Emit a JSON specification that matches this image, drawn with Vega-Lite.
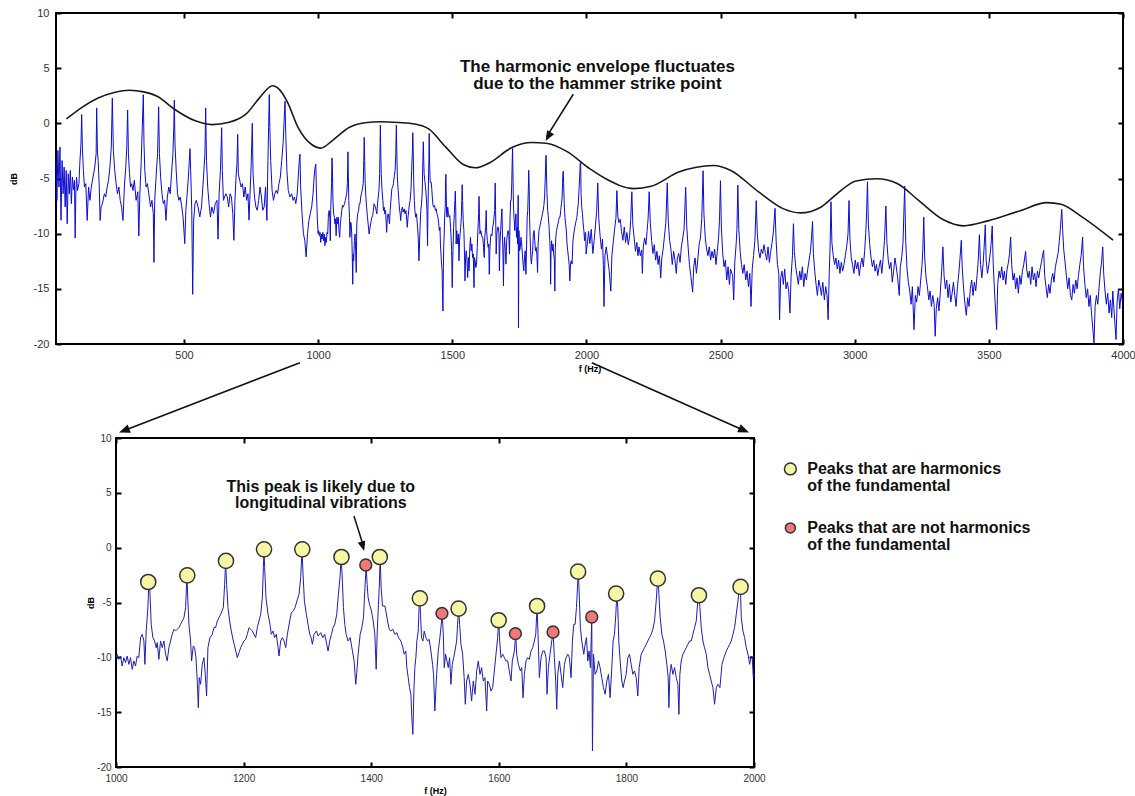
{
  "$schema": "https://vega.github.io/schema/vega-lite/v6.json",
  "background": "white",
  "padding": {"left": 8, "top": 6, "right": 0, "bottom": 0},
  "config": {
    "view": {"stroke": "#000000", "strokeWidth": 2},
    "axis": {"grid": false, "domain": false, "labelFont": "Liberation Sans", "labelColor": "#333333", "titleFont": "Liberation Sans", "titleFontWeight": "bold", "titleFontSize": 9, "titleColor": "#000000", "tickColor": "#000000", "tickWidth": 2, "tickSize": -5, "labelFlush": false, "labelOverlap": false},
    "text": {"font": "Liberation Sans"}
  },
  "datasets": {
    "envelope": [
      {"f":62,"db":0.4},{"f":120,"db":1.45},{"f":180,"db":2.3},{"f":240,"db":2.8},{"f":296,"db":3.0},{"f":350,"db":2.85},{"f":400,"db":2.45},{"f":463,"db":1.3},{"f":540,"db":0.25},{"f":604,"db":-0.12},{"f":668,"db":0.09},{"f":732,"db":0.85},{"f":783,"db":2.35},{"f":830,"db":3.4},{"f":856,"db":3.05},{"f":886,"db":1.9},{"f":925,"db":-0.36},{"f":976,"db":-1.92},{"f":1010,"db":-2.25},{"f":1053,"db":-1.56},{"f":1117,"db":-0.36},{"f":1175,"db":0.05},{"f":1233,"db":0.15},{"f":1300,"db":0.08},{"f":1361,"db":-0.06},{"f":1412,"db":-0.51},{"f":1476,"db":-2.16},{"f":1541,"db":-3.73},{"f":1586,"db":-4.03},{"f":1643,"db":-3.52},{"f":1720,"db":-2.22},{"f":1797,"db":-1.74},{"f":1850,"db":-1.8},{"f":1925,"db":-2.52},{"f":2013,"db":-4.12},{"f":2072,"db":-5.02},{"f":2176,"db":-5.92},{"f":2241,"db":-5.71},{"f":2344,"db":-4.42},{"f":2474,"db":-3.82},{"f":2538,"db":-4.27},{"f":2642,"db":-6.22},{"f":2733,"db":-7.73},{"f":2798,"db":-8.12},{"f":2875,"db":-7.58},{"f":2927,"db":-6.53},{"f":3005,"db":-5.23},{"f":3083,"db":-5.02},{"f":3160,"db":-5.47},{"f":3238,"db":-6.98},{"f":3329,"db":-8.72},{"f":3406,"db":-9.29},{"f":3497,"db":-8.84},{"f":3614,"db":-7.94},{"f":3717,"db":-7.19},{"f":3769,"db":-7.34},{"f":3847,"db":-8.48},{"f":3963,"db":-10.59}
    ],
    "peaks": [
      {"f":1050.5,"db":-3.13,"kind":"harmonic"},{"f":1111.7,"db":-2.52,"kind":"harmonic"},{"f":1172.4,"db":-1.21,"kind":"harmonic"},{"f":1232,"db":-0.15,"kind":"harmonic"},{"f":1292,"db":-0.15,"kind":"harmonic"},{"f":1353.4,"db":-0.85,"kind":"harmonic"},{"f":1413.5,"db":-0.85,"kind":"harmonic"},{"f":1476.3,"db":-4.62,"kind":"harmonic"},{"f":1537,"db":-5.56,"kind":"harmonic"},{"f":1599.8,"db":-6.62,"kind":"harmonic"},{"f":1660,"db":-5.32,"kind":"harmonic"},{"f":1724.3,"db":-2.19,"kind":"harmonic"},{"f":1783.9,"db":-4.19,"kind":"harmonic"},{"f":1849.3,"db":-2.83,"kind":"harmonic"},{"f":1913.7,"db":-4.34,"kind":"harmonic"},{"f":1979,"db":-3.58,"kind":"harmonic"},
      {"f":1391.5,"db":-1.58,"kind":"nonharmonic"},{"f":1510.9,"db":-5.99,"kind":"nonharmonic"},{"f":1626,"db":-7.84,"kind":"nonharmonic"},{"f":1685,"db":-7.69,"kind":"nonharmonic"},{"f":1745.7,"db":-6.32,"kind":"nonharmonic"}
    ],
    "spectrum": [
      {"f":23,"db":-3.37},{"f":26.3,"db":-6.98},{"f":30.2,"db":-2.46},{"f":34,"db":-5.77},{"f":37.9,"db":-2.16},{"f":41.7,"db":-8.78},{"f":45.6,"db":-3.37},{"f":49.4,"db":-6.38},{"f":53.3,"db":-3.97},{"f":57.1,"db":-7.58},{"f":61,"db":-4.27},{"f":64.8,"db":-9.1},{"f":68.7,"db":-4.57},{"f":72.5,"db":-6.38},{"f":76.4,"db":-4.27},{"f":80.2,"db":-7.28},{"f":84.1,"db":-4.87},{"f":87.9,"db":-6.0},{"f":91.8,"db":-5.17},{"f":94.5,"db":-10.4},{"f":97,"db":-6.38},{"f":99.5,"db":-4.87},{"f":103.3,"db":-6.08},{"f":108.4,"db":-5.47},{"f":112.3,"db":-3.37},{"f":116.1,"db":-1.86},{"f":118.7,"db":0.8},{"f":121.3,"db":-2.16},{"f":125.1,"db":-4.27},{"f":129,"db":-5.77},{"f":134.1,"db":-5.47},{"f":139.2,"db":-8.8},{"f":144.4,"db":-5.77},{"f":149.5,"db":-6.98},{"f":154.6,"db":-5.77},{"f":161.1,"db":-4.87},{"f":167.5,"db":-3.97},{"f":172.6,"db":-2.76},{"f":174.6,"db":1.4},{"f":177.5,"db":-2.6},{"f":180.3,"db":-3.37},{"f":184.2,"db":-5.77},{"f":187.5,"db":-8.8},{"f":191,"db":-7.58},{"f":196,"db":-7.28},{"f":203.4,"db":-6.38},{"f":208.5,"db":-6.68},{"f":213.7,"db":-5.77},{"f":218.8,"db":-5.17},{"f":223.9,"db":-3.97},{"f":229.1,"db":-2.16},{"f":232.9,"db":2.3},{"f":236.8,"db":-2.46},{"f":241.9,"db":-4.27},{"f":247,"db":-5.47},{"f":252.2,"db":-6.38},{"f":257.3,"db":-5.77},{"f":262.4,"db":-6.98},{"f":267.6,"db":-7.6},{"f":272.7,"db":-8.8},{"f":277.8,"db":-5.77},{"f":283,"db":-3.97},{"f":286.8,"db":-2.16},{"f":290,"db":1.2},{"f":293,"db":-2.76},{"f":297,"db":-4.57},{"f":301,"db":-5.77},{"f":305,"db":-5.47},{"f":310,"db":-6.08},{"f":315,"db":-5.17},{"f":321.5,"db":-6.98},{"f":327.9,"db":-6.2},{"f":331.7,"db":-10.2},{"f":335.6,"db":-6.38},{"f":340.7,"db":-3.37},{"f":344.6,"db":-0.36},{"f":348.4,"db":2.6},{"f":351,"db":-1.86},{"f":354,"db":-4.27},{"f":358.7,"db":-5.77},{"f":363.8,"db":-5.47},{"f":368.9,"db":-6.38},{"f":375.4,"db":-7.58},{"f":380.5,"db":-6.98},{"f":385.6,"db":-8.18},{"f":388.2,"db":-12.6},{"f":391,"db":-6.98},{"f":396,"db":-4.87},{"f":401.5,"db":-2.76},{"f":405.6,"db":1.5},{"f":408.5,"db":-2.76},{"f":413,"db":-4.87},{"f":418,"db":-6.38},{"f":423,"db":-7.28},{"f":428,"db":-6.98},{"f":433,"db":-8.8},{"f":438,"db":-6.68},{"f":443.4,"db":-5.77},{"f":448.5,"db":-6.38},{"f":453.6,"db":-4.57},{"f":458.8,"db":-2.76},{"f":462,"db":-0.36},{"f":464,"db":2.1},{"f":466.5,"db":-1.86},{"f":471,"db":-4.27},{"f":476,"db":-6.38},{"f":481,"db":-6.98},{"f":486,"db":-6.68},{"f":492,"db":-7.58},{"f":497,"db":-8.6},{"f":503,"db":-10.9},{"f":507,"db":-7.88},{"f":512,"db":-6.38},{"f":516.5,"db":-4.87},{"f":520,"db":-3.37},{"f":522.4,"db":-2.3},{"f":525,"db":-4.27},{"f":529,"db":-7.88},{"f":532.5,"db":-15.5},{"f":536,"db":-8.78},{"f":541,"db":-7.28},{"f":546,"db":-6.98},{"f":552.5,"db":-7.58},{"f":559,"db":-8.48},{"f":565.3,"db":-7.58},{"f":570.4,"db":-5.77},{"f":574.3,"db":-4.27},{"f":578.1,"db":-2.76},{"f":580.9,"db":1.4},{"f":584,"db":-3.37},{"f":588.4,"db":-5.77},{"f":593.5,"db":-7.28},{"f":598.7,"db":-8.48},{"f":603.8,"db":-7.58},{"f":610.2,"db":-8.18},{"f":616.6,"db":-7.28},{"f":623,"db":-6.98},{"f":627,"db":-10.5},{"f":631,"db":-6.38},{"f":636,"db":-4.27},{"f":640.5,"db":-0.4},{"f":643,"db":-4.27},{"f":647,"db":-6.98},{"f":651.3,"db":-6.68},{"f":656.4,"db":-6.38},{"f":661.5,"db":-6.68},{"f":666.7,"db":-7.58},{"f":671.8,"db":-6.38},{"f":676.9,"db":-6.68},{"f":682,"db":-8.2},{"f":686,"db":-10.6},{"f":690,"db":-6.98},{"f":694,"db":-4.87},{"f":697.5,"db":-3.67},{"f":700.2,"db":-1.0},{"f":702.6,"db":-4.57},{"f":707.7,"db":-5.17},{"f":712.9,"db":-5.77},{"f":718,"db":-5.47},{"f":723.1,"db":-6.68},{"f":728.3,"db":-5.77},{"f":733.4,"db":-6.98},{"f":738.5,"db":-6.38},{"f":742.4,"db":-8.78},{"f":746.2,"db":-6.38},{"f":750.1,"db":-3.97},{"f":754.6,"db":0.0},{"f":757.5,"db":-4.57},{"f":762.9,"db":-6.68},{"f":768.1,"db":-7.58},{"f":773.2,"db":-7.88},{"f":778.3,"db":-6.98},{"f":783.5,"db":-5.77},{"f":788.6,"db":-6.68},{"f":793.7,"db":-7.88},{"f":798.9,"db":-7.58},{"f":804,"db":-5.77},{"f":809.1,"db":-8.8},{"f":813,"db":-3.37},{"f":815.5,"db":-0.36},{"f":818,"db":2.6},{"f":820,"db":-0.36},{"f":823.2,"db":-3.37},{"f":828.4,"db":-6.08},{"f":833.5,"db":-6.98},{"f":838.6,"db":-6.38},{"f":843.8,"db":-6.08},{"f":848.9,"db":-6.38},{"f":854,"db":-5.47},{"f":859.2,"db":-4.87},{"f":864.3,"db":-3.37},{"f":869.4,"db":-1.86},{"f":873.3,"db":0.24},{"f":876.5,"db":2.0},{"f":879.7,"db":-1.26},{"f":883.6,"db":-4.27},{"f":888.7,"db":-6.08},{"f":895.1,"db":-6.68},{"f":901.5,"db":-6.38},{"f":906.6,"db":-6.98},{"f":911.8,"db":-6.68},{"f":916.9,"db":-7.28},{"f":922.1,"db":-6.38},{"f":925.9,"db":-4.87},{"f":929.7,"db":-3.37},{"f":932.3,"db":-2.8},{"f":934.9,"db":-5.77},{"f":940,"db":-8.18},{"f":945.1,"db":-9.99},{"f":950.3,"db":-10.59},{"f":955.4,"db":-12.1},{"f":960.6,"db":-9.99},{"f":965.7,"db":-8.78},{"f":970.8,"db":-8.18},{"f":976,"db":-7.58},{"f":981.1,"db":-6.38},{"f":985,"db":-4.87},{"f":988.8,"db":-3.97},{"f":991.3,"db":-3.7},{"f":993.9,"db":-6.38},{"f":997,"db":-8.6},{"f":1000,"db":-10.0},
      {"f":1001.8,"db":-9.72},{"f":1004.4,"db":-10.18},{"f":1007.1,"db":-9.88},{"f":1009.7,"db":-10.79},{"f":1012.3,"db":-10.03},{"f":1014.9,"db":-10.48},{"f":1017.5,"db":-9.88},{"f":1020.1,"db":-10.64},{"f":1022.8,"db":-10.03},{"f":1025.4,"db":-11.09},{"f":1028,"db":-10.33},{"f":1030.6,"db":-10.79},{"f":1033.2,"db":-9.88},{"f":1035.8,"db":-10.03},{"f":1038.5,"db":-8.2},{"f":1041.1,"db":-7.9},{"f":1043.7,"db":-8.51},{"f":1045.3,"db":-10.64},{"f":1047.3,"db":-7.6},{"f":1050,"db":-5.47},{"f":1051.5,"db":-3.13},{"f":1053.1,"db":-3.95},{"f":1055.2,"db":-6.99},{"f":1057.8,"db":-8.2},{"f":1060.4,"db":-8.51},{"f":1063,"db":-9.12},{"f":1064.6,"db":-8.66},{"f":1067.2,"db":-10.18},{"f":1069.8,"db":-8.51},{"f":1072.5,"db":-9.12},{"f":1075.1,"db":-8.51},{"f":1077.7,"db":-9.72},{"f":1080.3,"db":-10.33},{"f":1082.9,"db":-9.12},{"f":1085.5,"db":-8.51},{"f":1088.1,"db":-7.9},{"f":1090.8,"db":-7.44},{"f":1093.4,"db":-7.6},{"f":1096,"db":-7.44},{"f":1098.6,"db":-7.29},{"f":1101.2,"db":-6.99},{"f":1103.8,"db":-6.68},{"f":1106.5,"db":-6.38},{"f":1109.1,"db":-5.47},{"f":1111.2,"db":-2.58},{"f":1112.7,"db":-4.86},{"f":1114.3,"db":-6.99},{"f":1116.9,"db":-8.51},{"f":1118.5,"db":-10.33},{"f":1121.1,"db":-8.96},{"f":1123.2,"db":-9.12},{"f":1125.3,"db":-10.03},{"f":1127.4,"db":-12.16},{"f":1129,"db":-14.59},{"f":1130.5,"db":-11.85},{"f":1132.6,"db":-12.46},{"f":1135.2,"db":-10.64},{"f":1137.8,"db":-10.03},{"f":1139.9,"db":-11.55},{"f":1142,"db":-13.52},{"f":1144.1,"db":-9.12},{"f":1147.3,"db":-8.2},{"f":1150.9,"db":-7.9},{"f":1153.5,"db":-7.29},{"f":1156.1,"db":-7.29},{"f":1158.8,"db":-6.68},{"f":1161.4,"db":-6.38},{"f":1164,"db":-6.08},{"f":1168.2,"db":-5.47},{"f":1170.3,"db":-3.34},{"f":1171.8,"db":-1.27},{"f":1173.4,"db":-3.34},{"f":1175.5,"db":-5.47},{"f":1178.1,"db":-6.68},{"f":1180.7,"db":-7.6},{"f":1183.9,"db":-8.51},{"f":1186.5,"db":-9.12},{"f":1190.1,"db":-10.03},{"f":1192.8,"db":-9.57},{"f":1195.4,"db":-9.12},{"f":1198,"db":-8.81},{"f":1200.6,"db":-8.51},{"f":1203.2,"db":-8.36},{"f":1205.8,"db":-7.9},{"f":1208.5,"db":-7.29},{"f":1211.1,"db":-7.44},{"f":1213.7,"db":-7.6},{"f":1216.3,"db":-7.9},{"f":1218.9,"db":-8.2},{"f":1221.5,"db":-7.29},{"f":1224.1,"db":-6.68},{"f":1226.8,"db":-6.08},{"f":1229.4,"db":-4.56},{"f":1231,"db":-1.82},{"f":1232,"db":-0.15},{"f":1233,"db":-1.82},{"f":1235.1,"db":-4.56},{"f":1238.3,"db":-6.08},{"f":1241.4,"db":-6.99},{"f":1243.5,"db":-7.9},{"f":1246.1,"db":-7.6},{"f":1248.7,"db":-8.2},{"f":1251.3,"db":-7.9},{"f":1254,"db":-9.12},{"f":1255.5,"db":-9.88},{"f":1258.1,"db":-8.51},{"f":1260.8,"db":-8.2},{"f":1263.4,"db":-8.51},{"f":1266,"db":-9.12},{"f":1268.6,"db":-7.9},{"f":1272.3,"db":-6.68},{"f":1274.9,"db":-5.92},{"f":1278,"db":-5.77},{"f":1280.6,"db":-5.47},{"f":1284.3,"db":-4.71},{"f":1286.9,"db":-4.25},{"f":1289.5,"db":-2.73},{"f":1291.6,"db":-0.15},{"f":1293.2,"db":-2.43},{"f":1295.3,"db":-4.86},{"f":1298.4,"db":-6.08},{"f":1301,"db":-6.99},{"f":1303.7,"db":-7.9},{"f":1305.8,"db":-8.2},{"f":1307.8,"db":-8.81},{"f":1310.5,"db":-7.9},{"f":1314.1,"db":-7.6},{"f":1316.7,"db":-8.05},{"f":1320.9,"db":-7.75},{"f":1324.1,"db":-8.2},{"f":1327.2,"db":-7.9},{"f":1330.3,"db":-8.81},{"f":1332.4,"db":-9.42},{"f":1335,"db":-8.51},{"f":1337.7,"db":-7.9},{"f":1340.3,"db":-7.29},{"f":1342.9,"db":-6.99},{"f":1346,"db":-6.08},{"f":1348.6,"db":-4.25},{"f":1351.3,"db":-2.58},{"f":1352.8,"db":-0.85},{"f":1354.4,"db":-2.43},{"f":1356.5,"db":-5.47},{"f":1358.6,"db":-6.99},{"f":1360.7,"db":-7.9},{"f":1363.8,"db":-8.51},{"f":1367,"db":-8.2},{"f":1370.6,"db":-9.42},{"f":1373.2,"db":-10.33},{"f":1375.8,"db":-12.46},{"f":1377.4,"db":-11.4},{"f":1379.5,"db":-9.72},{"f":1382.7,"db":-7.9},{"f":1385.3,"db":-7.29},{"f":1387.9,"db":-6.38},{"f":1390.5,"db":-3.34},{"f":1392.1,"db":-1.67},{"f":1393.6,"db":-3.34},{"f":1395.2,"db":-4.56},{"f":1397.3,"db":-5.16},{"f":1400.4,"db":-5.77},{"f":1403.1,"db":-6.68},{"f":1405.7,"db":-7.9},{"f":1407.8,"db":-11.09},{"f":1409.3,"db":-7.9},{"f":1411.4,"db":-5.16},{"f":1413,"db":-3.04},{"f":1414,"db":-0.91},{"f":1415.6,"db":-3.64},{"f":1417.7,"db":-5.32},{"f":1421.4,"db":-5.32},{"f":1423.5,"db":-5.92},{"f":1425.6,"db":-6.68},{"f":1428.2,"db":-7.44},{"f":1430.8,"db":-7.6},{"f":1434,"db":-7.44},{"f":1437.1,"db":-7.9},{"f":1440.2,"db":-7.75},{"f":1442.8,"db":-8.2},{"f":1446.5,"db":-8.51},{"f":1449.6,"db":-9.12},{"f":1451.7,"db":-9.72},{"f":1454.3,"db":-9.42},{"f":1455.9,"db":-10.94},{"f":1458,"db":-11.85},{"f":1460.1,"db":-12.76},{"f":1462.2,"db":-13.37},{"f":1463.7,"db":-15.5},{"f":1465.3,"db":-17.02},{"f":1466.9,"db":-13.07},{"f":1468.4,"db":-10.94},{"f":1470,"db":-10.03},{"f":1471.6,"db":-8.51},{"f":1473.7,"db":-7.6},{"f":1475.2,"db":-5.16},{"f":1476.3,"db":-4.62},{"f":1477.3,"db":-6.08},{"f":1478.9,"db":-8.2},{"f":1481,"db":-8.51},{"f":1483.1,"db":-7.6},{"f":1485.7,"db":-8.2},{"f":1488.3,"db":-8.51},{"f":1490.9,"db":-8.36},{"f":1493.6,"db":-9.42},{"f":1496.2,"db":-10.64},{"f":1497.7,"db":-11.55},{"f":1499.8,"db":-14.89},{"f":1502.5,"db":-11.55},{"f":1505.1,"db":-9.42},{"f":1507.7,"db":-8.2},{"f":1509.8,"db":-6.99},{"f":1511.4,"db":-6.14},{"f":1513,"db":-7.9},{"f":1514.5,"db":-10.94},{"f":1516.6,"db":-9.72},{"f":1518.7,"db":-10.33},{"f":1520.8,"db":-10.94},{"f":1522.9,"db":-10.03},{"f":1525,"db":-12.46},{"f":1527.1,"db":-10.64},{"f":1529.2,"db":-10.03},{"f":1531.3,"db":-9.42},{"f":1533.9,"db":-8.51},{"f":1535.4,"db":-6.99},{"f":1537,"db":-5.56},{"f":1538.6,"db":-6.99},{"f":1540.7,"db":-8.81},{"f":1543.3,"db":-9.72},{"f":1545.7,"db":-11.85},{"f":1547.5,"db":-14.28},{"f":1549.6,"db":-12.16},{"f":1552.2,"db":-11.55},{"f":1554.8,"db":-12.46},{"f":1557.4,"db":-13.98},{"f":1560,"db":-12.16},{"f":1562.7,"db":-13.37},{"f":1565.3,"db":-11.24},{"f":1567.9,"db":-10.33},{"f":1570.5,"db":-11.55},{"f":1573.1,"db":-10.94},{"f":1575.7,"db":-12.16},{"f":1578.3,"db":-11.85},{"f":1581,"db":-14.89},{"f":1582.5,"db":-12.16},{"f":1585.1,"db":-12.46},{"f":1587.8,"db":-13.07},{"f":1590.4,"db":-12.76},{"f":1593,"db":-11.24},{"f":1595.6,"db":-9.72},{"f":1598.2,"db":-8.2},{"f":1599.8,"db":-6.62},{"f":1601.4,"db":-8.51},{"f":1603.4,"db":-10.03},{"f":1606.1,"db":-9.72},{"f":1608.7,"db":-10.03},{"f":1611.3,"db":-10.33},{"f":1613.9,"db":-10.33},{"f":1616.5,"db":-11.24},{"f":1619.1,"db":-12.16},{"f":1621.2,"db":-10.33},{"f":1624.4,"db":-9.42},{"f":1626.5,"db":-7.9},{"f":1628,"db":-9.72},{"f":1630.7,"db":-10.64},{"f":1633.8,"db":-11.24},{"f":1635.9,"db":-10.94},{"f":1638,"db":-13.68},{"f":1640.1,"db":-11.55},{"f":1642.7,"db":-10.33},{"f":1645.3,"db":-10.03},{"f":1647.9,"db":-10.18},{"f":1650.5,"db":-9.42},{"f":1653.1,"db":-9.12},{"f":1655.8,"db":-8.51},{"f":1657.9,"db":-7.9},{"f":1660,"db":-5.41},{"f":1661.5,"db":-7.9},{"f":1663.6,"db":-11.85},{"f":1666.2,"db":-10.03},{"f":1668.8,"db":-9.42},{"f":1671.5,"db":-9.42},{"f":1674.1,"db":-10.03},{"f":1675.6,"db":-13.37},{"f":1677.7,"db":-10.94},{"f":1680.3,"db":-9.72},{"f":1683,"db":-8.51},{"f":1685.1,"db":-7.75},{"f":1687.1,"db":-10.03},{"f":1689.2,"db":-12.16},{"f":1690.8,"db":-14.74},{"f":1692.4,"db":-11.55},{"f":1695,"db":-10.33},{"f":1697.6,"db":-11.55},{"f":1700.2,"db":-12.76},{"f":1702.8,"db":-10.64},{"f":1705.5,"db":-10.03},{"f":1708.1,"db":-9.72},{"f":1710.7,"db":-10.03},{"f":1713.3,"db":-11.85},{"f":1715.4,"db":-8.51},{"f":1717.5,"db":-6.99},{"f":1719.6,"db":-6.99},{"f":1721.7,"db":-5.47},{"f":1723.8,"db":-3.04},{"f":1724.8,"db":-2.28},{"f":1726.4,"db":-4.86},{"f":1727.9,"db":-7.29},{"f":1730,"db":-8.51},{"f":1733.2,"db":-9.72},{"f":1735.3,"db":-8.81},{"f":1737.4,"db":-8.2},{"f":1739.5,"db":-10.33},{"f":1741.5,"db":-9.42},{"f":1743.6,"db":-10.94},{"f":1745.7,"db":-6.53},{"f":1746.8,"db":-18.54},{"f":1748.4,"db":-9.72},{"f":1751,"db":-11.55},{"f":1753.6,"db":-11.24},{"f":1756.2,"db":-10.33},{"f":1758.8,"db":-10.94},{"f":1761.4,"db":-11.85},{"f":1764,"db":-12.76},{"f":1766.7,"db":-13.37},{"f":1769.3,"db":-12.16},{"f":1771.9,"db":-11.55},{"f":1774.5,"db":-13.68},{"f":1777.1,"db":-10.94},{"f":1779.2,"db":-8.51},{"f":1781.3,"db":-7.9},{"f":1783.4,"db":-6.08},{"f":1785,"db":-4.25},{"f":1786.5,"db":-5.47},{"f":1788.1,"db":-8.51},{"f":1790.2,"db":-10.33},{"f":1792.8,"db":-12.16},{"f":1794.9,"db":-12.76},{"f":1797,"db":-12.16},{"f":1799.6,"db":-11.55},{"f":1802.2,"db":-10.03},{"f":1804.9,"db":-9.72},{"f":1807.5,"db":-10.64},{"f":1810.1,"db":-11.55},{"f":1812.7,"db":-11.24},{"f":1815.3,"db":-11.85},{"f":1817.9,"db":-13.52},{"f":1820,"db":-10.94},{"f":1823.2,"db":-9.72},{"f":1825.8,"db":-9.42},{"f":1828.4,"db":-9.12},{"f":1831,"db":-8.81},{"f":1833.6,"db":-8.51},{"f":1836.2,"db":-8.2},{"f":1838.9,"db":-7.9},{"f":1841.5,"db":-7.44},{"f":1844.1,"db":-6.68},{"f":1846.7,"db":-4.86},{"f":1848.8,"db":-3.04},{"f":1849.8,"db":-2.9},{"f":1850.9,"db":-4.25},{"f":1853,"db":-6.38},{"f":1855.6,"db":-7.9},{"f":1858.2,"db":-8.51},{"f":1860.8,"db":-9.42},{"f":1863.4,"db":-10.64},{"f":1865.5,"db":-11.85},{"f":1866.6,"db":-14.59},{"f":1868.2,"db":-11.55},{"f":1870.2,"db":-10.64},{"f":1872.9,"db":-11.55},{"f":1875.5,"db":-10.94},{"f":1878.1,"db":-11.85},{"f":1880.7,"db":-12.46},{"f":1882.3,"db":-15.2},{"f":1883.8,"db":-11.55},{"f":1885.9,"db":-10.33},{"f":1888.5,"db":-9.72},{"f":1891.2,"db":-9.42},{"f":1893.8,"db":-9.12},{"f":1896.4,"db":-8.81},{"f":1899,"db":-8.51},{"f":1901.6,"db":-8.51},{"f":1904.2,"db":-7.9},{"f":1906.9,"db":-7.29},{"f":1909.5,"db":-6.68},{"f":1912.1,"db":-4.71},{"f":1913.7,"db":-4.34},{"f":1915.2,"db":-5.47},{"f":1917.3,"db":-7.29},{"f":1919.9,"db":-8.51},{"f":1922.5,"db":-9.12},{"f":1925.2,"db":-9.72},{"f":1927.8,"db":-10.94},{"f":1930.4,"db":-11.55},{"f":1933,"db":-12.16},{"f":1935.6,"db":-12.76},{"f":1938.2,"db":-14.28},{"f":1940.9,"db":-12.76},{"f":1943.5,"db":-12.46},{"f":1946.6,"db":-12.76},{"f":1949.8,"db":-10.64},{"f":1952.9,"db":-10.03},{"f":1956.6,"db":-9.42},{"f":1959.2,"db":-9.12},{"f":1961.8,"db":-8.81},{"f":1964.4,"db":-8.51},{"f":1967,"db":-7.9},{"f":1969.6,"db":-7.29},{"f":1972.2,"db":-6.08},{"f":1974.9,"db":-4.86},{"f":1976.9,"db":-3.64},{"f":1978.5,"db":-3.49},{"f":1980.1,"db":-6.38},{"f":1982.7,"db":-7.6},{"f":1985.3,"db":-8.2},{"f":1987.9,"db":-9.12},{"f":1990.5,"db":-9.72},{"f":1993.2,"db":-10.64},{"f":1995.8,"db":-9.88},{"f":1997.3,"db":-10.03},{"f":1998.9,"db":-11.85},{"f":2000,"db":-11.55},
      {"f":2003,"db":-11.0},{"f":2008,"db":-9.8},{"f":2013,"db":-10.9},{"f":2018,"db":-9.6},{"f":2024,"db":-11.8},{"f":2029,"db":-10.6},{"f":2034,"db":-9.2},{"f":2038,"db":-8.0},{"f":2042.3,"db":-5.4},{"f":2046,"db":-8.6},{"f":2051,"db":-10.2},{"f":2056,"db":-11.4},{"f":2060,"db":-10.5},{"f":2063,"db":-12.8},{"f":2065.6,"db":-16.6},{"f":2069,"db":-12.0},{"f":2074,"db":-11.2},{"f":2079,"db":-12.2},{"f":2085,"db":-13.4},{"f":2091,"db":-15.2},{"f":2095,"db":-12.0},{"f":2100,"db":-10.8},{"f":2105,"db":-9.6},{"f":2110,"db":-8.6},{"f":2113.6,"db":-6.1},{"f":2117,"db":-8.4},{"f":2121,"db":-9.0},{"f":2126,"db":-8.7},{"f":2131,"db":-9.8},{"f":2136,"db":-10.6},{"f":2141,"db":-9.4},{"f":2146,"db":-10.8},{"f":2151,"db":-9.9},{"f":2156,"db":-11.0},{"f":2161,"db":-10.2},{"f":2165,"db":-8.8},{"f":2169.3,"db":-6.2},{"f":2173,"db":-9.2},{"f":2178,"db":-10.4},{"f":2183,"db":-11.6},{"f":2188,"db":-10.8},{"f":2192,"db":-12.0},{"f":2196,"db":-11.2},{"f":2201,"db":-12.0},{"f":2206,"db":-11.5},{"f":2208.5,"db":-13.6},{"f":2212,"db":-11.2},{"f":2217,"db":-10.4},{"f":2222,"db":-11.0},{"f":2226,"db":-9.8},{"f":2230,"db":-8.6},{"f":2234,"db":-6.2},{"f":2238,"db":-9.0},{"f":2243,"db":-10.6},{"f":2248,"db":-11.8},{"f":2253,"db":-11.0},{"f":2258,"db":-12.4},{"f":2263,"db":-11.6},{"f":2267,"db":-12.8},{"f":2272,"db":-12.0},{"f":2277,"db":-14.0},{"f":2281,"db":-12.2},{"f":2286,"db":-11.4},{"f":2291,"db":-10.2},{"f":2296,"db":-9.0},{"f":2301.4,"db":-5.4},{"f":2305,"db":-8.8},{"f":2310,"db":-10.6},{"f":2315,"db":-11.4},{"f":2320,"db":-12.8},{"f":2325,"db":-11.6},{"f":2330,"db":-12.4},{"f":2335,"db":-13.6},{"f":2339,"db":-12.2},{"f":2344,"db":-11.8},{"f":2349,"db":-12.6},{"f":2354,"db":-11.2},{"f":2359,"db":-10.4},{"f":2364,"db":-9.6},{"f":2370,"db":-5.8},{"f":2374,"db":-9.4},{"f":2379,"db":-11.2},{"f":2384,"db":-12.8},{"f":2389,"db":-13.8},{"f":2396,"db":-15.3},{"f":2400,"db":-13.0},{"f":2405,"db":-12.2},{"f":2410,"db":-13.6},{"f":2415,"db":-12.4},{"f":2420,"db":-11.0},{"f":2425,"db":-10.4},{"f":2430,"db":-8.6},{"f":2434.8,"db":-4.3},{"f":2438,"db":-8.2},{"f":2443,"db":-10.4},{"f":2448,"db":-11.4},{"f":2453,"db":-12.0},{"f":2458,"db":-11.2},{"f":2463,"db":-12.4},{"f":2468,"db":-11.6},{"f":2473,"db":-12.2},{"f":2478,"db":-11.4},{"f":2483,"db":-12.8},{"f":2488,"db":-11.6},{"f":2493,"db":-10.2},{"f":2496,"db":-8.8},{"f":2499.6,"db":-5.2},{"f":2503,"db":-9.4},{"f":2508,"db":-11.8},{"f":2513,"db":-13.0},{"f":2518,"db":-12.4},{"f":2523,"db":-14.2},{"f":2528,"db":-13.0},{"f":2533,"db":-14.6},{"f":2537,"db":-13.2},{"f":2545,"db":-13.8},{"f":2549,"db":-16.0},{"f":2553,"db":-12.6},{"f":2558,"db":-11.0},{"f":2561,"db":-9.6},{"f":2564.4,"db":-5.6},{"f":2568,"db":-9.6},{"f":2573,"db":-11.6},{"f":2578,"db":-12.8},{"f":2583,"db":-13.6},{"f":2588,"db":-12.8},{"f":2594,"db":-14.2},{"f":2599,"db":-13.4},{"f":2604,"db":-14.8},{"f":2609,"db":-13.6},{"f":2613.6,"db":-16.6},{"f":2618,"db":-13.2},{"f":2623,"db":-12.0},{"f":2628,"db":-10.6},{"f":2633,"db":-7.0},{"f":2637,"db":-10.0},{"f":2642,"db":-11.6},{"f":2647,"db":-12.2},{"f":2652,"db":-11.4},{"f":2657,"db":-11.8},{"f":2662,"db":-11.0},{"f":2667,"db":-11.8},{"f":2672,"db":-12.4},{"f":2677,"db":-11.2},{"f":2682,"db":-12.6},{"f":2687,"db":-11.6},{"f":2692,"db":-10.8},{"f":2697,"db":-9.8},{"f":2703,"db":-7.7},{"f":2707,"db":-10.6},{"f":2712,"db":-12.8},{"f":2717,"db":-13.6},{"f":2720,"db":-17.8},{"f":2724,"db":-14.0},{"f":2729,"db":-13.4},{"f":2734,"db":-14.6},{"f":2739,"db":-13.2},{"f":2744,"db":-15.0},{"f":2749,"db":-14.4},{"f":2754,"db":-15.2},{"f":2758.7,"db":-17.2},{"f":2763,"db":-13.8},{"f":2768,"db":-12.0},{"f":2771.6,"db":-9.1},{"f":2775,"db":-11.6},{"f":2780,"db":-13.0},{"f":2785,"db":-13.8},{"f":2790,"db":-14.6},{"f":2795,"db":-13.4},{"f":2800,"db":-14.2},{"f":2805,"db":-13.0},{"f":2810,"db":-14.8},{"f":2815,"db":-13.6},{"f":2820,"db":-14.2},{"f":2825,"db":-13.2},{"f":2830,"db":-12.4},{"f":2835,"db":-11.6},{"f":2839,"db":-10.4},{"f":2842.9,"db":-8.9},{"f":2846,"db":-11.8},{"f":2851,"db":-13.4},{"f":2856,"db":-14.6},{"f":2861,"db":-15.6},{"f":2866,"db":-14.2},{"f":2871,"db":-14.8},{"f":2876,"db":-15.6},{"f":2881,"db":-14.4},{"f":2887,"db":-16.0},{"f":2892,"db":-14.8},{"f":2897,"db":-15.6},{"f":2901,"db":-17.8},{"f":2905,"db":-13.6},{"f":2908,"db":-11.4},{"f":2911.6,"db":-7.1},{"f":2915,"db":-10.8},{"f":2920,"db":-12.0},{"f":2925,"db":-12.8},{"f":2930,"db":-12.2},{"f":2935,"db":-13.2},{"f":2940,"db":-12.4},{"f":2945,"db":-13.6},{"f":2950,"db":-12.6},{"f":2955,"db":-13.4},{"f":2960,"db":-12.8},{"f":2965,"db":-12.0},{"f":2970,"db":-11.2},{"f":2975,"db":-10.0},{"f":2978.9,"db":-7.0},{"f":2982,"db":-10.4},{"f":2987,"db":-12.2},{"f":2992,"db":-12.8},{"f":2997,"db":-13.6},{"f":3002,"db":-12.4},{"f":3007,"db":-13.2},{"f":3012,"db":-12.6},{"f":3017,"db":-13.8},{"f":3022,"db":-12.8},{"f":3027,"db":-12.2},{"f":3032,"db":-13.0},{"f":3037,"db":-11.6},{"f":3041,"db":-10.0},{"f":3044,"db":-8.4},{"f":3047.6,"db":-5.3},{"f":3051,"db":-9.2},{"f":3056,"db":-11.0},{"f":3061,"db":-12.2},{"f":3066,"db":-13.0},{"f":3071,"db":-12.4},{"f":3076,"db":-13.4},{"f":3081,"db":-12.8},{"f":3086,"db":-13.8},{"f":3091,"db":-13.0},{"f":3096,"db":-12.4},{"f":3101,"db":-13.6},{"f":3106,"db":-12.2},{"f":3111,"db":-10.6},{"f":3116.2,"db":-7.5},{"f":3120,"db":-10.8},{"f":3125,"db":-12.4},{"f":3130,"db":-13.2},{"f":3135,"db":-12.6},{"f":3140,"db":-14.4},{"f":3145,"db":-13.4},{"f":3150,"db":-12.2},{"f":3155,"db":-13.0},{"f":3160,"db":-14.0},{"f":3166,"db":-15.6},{"f":3170,"db":-13.0},{"f":3175,"db":-12.2},{"f":3180,"db":-10.8},{"f":3186.2,"db":-5.7},{"f":3190,"db":-10.6},{"f":3195,"db":-13.2},{"f":3200,"db":-14.4},{"f":3205,"db":-15.2},{"f":3210,"db":-16.4},{"f":3215,"db":-14.8},{"f":3221,"db":-18.7},{"f":3226,"db":-15.6},{"f":3231,"db":-16.2},{"f":3236,"db":-14.8},{"f":3241,"db":-15.6},{"f":3246,"db":-14.2},{"f":3251,"db":-12.8},{"f":3254,"db":-11.4},{"f":3257.4,"db":-8.5},{"f":3261,"db":-12.2},{"f":3266,"db":-14.0},{"f":3271,"db":-14.8},{"f":3276,"db":-16.0},{"f":3281,"db":-15.2},{"f":3286,"db":-16.6},{"f":3291,"db":-15.6},{"f":3296,"db":-16.4},{"f":3300,"db":-19.3},{"f":3304,"db":-16.8},{"f":3309,"db":-15.8},{"f":3314,"db":-17.0},{"f":3319,"db":-15.4},{"f":3324,"db":-13.4},{"f":3328.7,"db":-11.2},{"f":3333,"db":-13.8},{"f":3338,"db":-15.0},{"f":3343,"db":-14.2},{"f":3348,"db":-15.8},{"f":3353,"db":-14.6},{"f":3358,"db":-16.2},{"f":3363,"db":-15.4},{"f":3368,"db":-14.4},{"f":3373,"db":-15.6},{"f":3378,"db":-16.6},{"f":3383,"db":-14.8},{"f":3388,"db":-13.6},{"f":3392,"db":-12.4},{"f":3397.3,"db":-10.6},{"f":3401,"db":-13.2},{"f":3406,"db":-15.0},{"f":3411,"db":-16.4},{"f":3416,"db":-17.4},{"f":3421,"db":-15.8},{"f":3426,"db":-16.6},{"f":3431,"db":-15.0},{"f":3436,"db":-14.2},{"f":3441,"db":-15.6},{"f":3446,"db":-14.4},{"f":3451,"db":-15.2},{"f":3456,"db":-13.8},{"f":3460,"db":-12.6},{"f":3464.7,"db":-10.1},{"f":3469,"db":-12.8},{"f":3474,"db":-14.0},{"f":3479,"db":-12.6},{"f":3482,"db":-11.4},{"f":3486.7,"db":-9.2},{"f":3490,"db":-12.4},{"f":3495,"db":-13.6},{"f":3500,"db":-12.8},{"f":3505,"db":-11.8},{"f":3508,"db":-11.0},{"f":3512.6,"db":-9.3},{"f":3516,"db":-12.6},{"f":3521,"db":-15.2},{"f":3529,"db":-18.7},{"f":3533,"db":-14.6},{"f":3538,"db":-13.4},{"f":3543,"db":-14.0},{"f":3548,"db":-13.0},{"f":3553,"db":-14.2},{"f":3558,"db":-13.4},{"f":3563,"db":-14.6},{"f":3568,"db":-13.2},{"f":3573,"db":-12.6},{"f":3577,"db":-11.8},{"f":3581.3,"db":-10.3},{"f":3585,"db":-12.8},{"f":3590,"db":-14.2},{"f":3595,"db":-13.6},{"f":3600,"db":-15.0},{"f":3605,"db":-14.0},{"f":3610,"db":-15.4},{"f":3615,"db":-13.8},{"f":3620,"db":-14.6},{"f":3625,"db":-13.4},{"f":3630,"db":-12.8},{"f":3637,"db":-11.6},{"f":3641,"db":-13.2},{"f":3646,"db":-14.0},{"f":3651,"db":-13.4},{"f":3656,"db":-14.6},{"f":3661,"db":-13.0},{"f":3666,"db":-14.2},{"f":3671,"db":-13.6},{"f":3676,"db":-14.8},{"f":3681,"db":-13.4},{"f":3686,"db":-14.0},{"f":3691,"db":-13.2},{"f":3696,"db":-12.6},{"f":3700,"db":-12.0},{"f":3704.3,"db":-11.5},{"f":3708,"db":-13.8},{"f":3713,"db":-14.8},{"f":3718,"db":-15.8},{"f":3723,"db":-14.6},{"f":3728,"db":-15.4},{"f":3733,"db":-14.2},{"f":3738,"db":-13.6},{"f":3743,"db":-14.4},{"f":3748,"db":-13.0},{"f":3753,"db":-12.4},{"f":3758,"db":-11.8},{"f":3763,"db":-10.6},{"f":3767,"db":-9.4},{"f":3771.7,"db":-7.8},{"f":3775,"db":-9.6},{"f":3779,"db":-11.4},{"f":3784,"db":-12.6},{"f":3789,"db":-13.8},{"f":3794,"db":-15.0},{"f":3799,"db":-14.0},{"f":3804,"db":-15.6},{"f":3809,"db":-16.0},{"f":3814,"db":-14.6},{"f":3819,"db":-15.4},{"f":3824,"db":-14.2},{"f":3829,"db":-15.0},{"f":3834,"db":-13.8},{"f":3839,"db":-12.8},{"f":3844,"db":-12.0},{"f":3849.4,"db":-10.3},{"f":3853,"db":-13.0},{"f":3858,"db":-14.6},{"f":3863,"db":-15.8},{"f":3868,"db":-15.0},{"f":3873,"db":-16.6},{"f":3878,"db":-15.6},{"f":3882,"db":-17.0},{"f":3892,"db":-19.9},{"f":3896,"db":-16.6},{"f":3901,"db":-15.6},{"f":3906,"db":-16.4},{"f":3911,"db":-14.8},{"f":3916,"db":-13.4},{"f":3920,"db":-12.6},{"f":3924.5,"db":-11.2},{"f":3928,"db":-13.6},{"f":3933,"db":-15.2},{"f":3938,"db":-16.4},{"f":3943,"db":-15.4},{"f":3948,"db":-17.2},{"f":3953,"db":-16.0},{"f":3958,"db":-17.6},{"f":3962,"db":-15.2},{"f":3966,"db":-16.8},{"f":3974,"db":-19.6},{"f":3978,"db":-16.2},{"f":3983,"db":-15.0},{"f":3988,"db":-16.8},{"f":3993,"db":-15.4},{"f":3998,"db":-16.2},{"f":4000,"db":-16.0}
    ]
  },
  "bounds": "flush",
  "spacing": 94,
  "vconcat": [
    {
      "width": 1067,
      "height": 331,
      "resolve": {"axis": {"x": "independent", "y": "independent"}},
      "layer": [
        {
          "data": {"name": "spectrum"},
          "mark": {"type": "line", "color": "#0c0cd0", "strokeWidth": 1},
          "encoding": {
            "x": {"field": "f", "type": "quantitative", "scale": {"domain": [23, 4000], "nice": false, "zero": false},
                  "axis": {"orient": "bottom", "values": [500, 1000, 1500, 2000, 2500, 3000, 3500, 4000], "title": "f (Hz)", "labelFontSize": 11, "labelPadding": 10, "titlePadding": 4, "labelExpr": "'' + datum.value"}},
            "y": {"field": "db", "type": "quantitative", "scale": {"domain": [-20, 10], "nice": false, "zero": false},
                  "axis": {"orient": "left", "values": [-20, -15, -10, -5, 0, 5, 10], "title": "dB", "labelFontSize": 11, "labelPadding": 12, "titlePadding": 15, "labelExpr": "'' + datum.value"}}
          }
        },
        {
          "data": {"name": "envelope"},
          "mark": {"type": "line", "color": "#1a1a1a", "strokeWidth": 1.6, "interpolate": "monotone"},
          "encoding": {
            "x": {"field": "f", "type": "quantitative", "axis": {"orient": "top", "values": [500, 1000, 1500, 2000, 2500, 3000, 3500, 4000], "labels": false, "title": null}},
            "y": {"field": "db", "type": "quantitative", "axis": {"orient": "right", "values": [-20, -15, -10, -5, 0, 5, 10], "labels": false, "title": null}}
          }
        },
        {
          "data": {"values": [{}]},
          "mark": {"type": "text", "text": ["The harmonic envelope fluctuates", "due to the hammer strike point"], "align": "center", "baseline": "alphabetic", "fontSize": 17, "fontWeight": "bold", "lineHeight": 17, "color": "#111111", "font": "Liberation Sans"},
          "encoding": {"x": {"datum": 2041, "axis": null}, "y": {"datum": 4.69, "axis": null}}
        },
        {
          "data": {"values": [{}]},
          "mark": {"type": "rule", "color": "#111111", "strokeWidth": 1.6},
          "encoding": {"x": {"datum": 1951, "axis": null}, "y": {"datum": 2.64, "axis": null}, "x2": {"datum": 1852}, "y2": {"datum": -1.2}}
        },
        {
          "data": {"values": [{}]},
          "mark": {"type": "point", "shape": "M0,0L-0.4,1L0.4,1Z", "filled": true, "color": "#111111", "opacity": 1, "size": 400, "angle": 210},
          "encoding": {"x": {"datum": 1848, "axis": null}, "y": {"datum": -1.59, "axis": null}}
        },
        {
          "data": {"values": [{}]},
          "mark": {"type": "rule", "color": "#111111", "strokeWidth": 1.6},
          "encoding": {"x": {"datum": 932, "axis": null}, "y": {"datum": -21.69, "axis": null}, "x2": {"datum": 270}, "y2": {"datum": -27.9}}
        },
        {
          "data": {"values": [{}]},
          "mark": {"type": "point", "shape": "M0,0L-0.4,1L0.4,1Z", "filled": true, "color": "#111111", "opacity": 1, "size": 480, "angle": 249},
          "encoding": {"x": {"datum": 258, "axis": null}, "y": {"datum": -28.03, "axis": null}}
        },
        {
          "data": {"values": [{}]},
          "mark": {"type": "rule", "color": "#111111", "strokeWidth": 1.6},
          "encoding": {"x": {"datum": 2020, "axis": null}, "y": {"datum": -21.69, "axis": null}, "x2": {"datum": 2594}, "y2": {"datum": -27.9}}
        },
        {
          "data": {"values": [{}]},
          "mark": {"type": "point", "shape": "M0,0L-0.4,1L0.4,1Z", "filled": true, "color": "#111111", "opacity": 1, "size": 480, "angle": 114},
          "encoding": {"x": {"datum": 2606, "axis": null}, "y": {"datum": -28.03, "axis": null}}
        }
      ]
    },
    {
      "bounds": "flush",
      "spacing": 0,
      "hconcat": [
        {
          "width": 60,
          "height": 329,
          "view": {"stroke": null},
          "data": {"values": [{}]},
          "mark": {"type": "text", "text": ""},
          "encoding": {}
        },
        {
          "width": 638,
          "height": 329,
          "resolve": {"axis": {"x": "independent", "y": "independent"}},
          "layer": [
            {
              "data": {"name": "spectrum"},
              "transform": [{"filter": "datum.f >= 1000 && datum.f <= 2000"}],
              "mark": {"type": "line", "color": "#1e1eb4", "strokeWidth": 1},
              "encoding": {
                "x": {"field": "f", "type": "quantitative", "scale": {"domain": [1000, 2000], "nice": false, "zero": false},
                      "axis": {"orient": "bottom", "values": [1000, 1200, 1400, 1600, 1800, 2000], "title": "f (Hz)", "labelFontSize": 10, "labelPadding": 11, "titlePadding": 3, "labelExpr": "'' + datum.value"}},
                "y": {"field": "db", "type": "quantitative", "scale": {"domain": [-20, 10], "nice": false, "zero": false},
                      "axis": {"orient": "left", "values": [-20, -15, -10, -5, 0, 5, 10], "title": "dB", "labelFontSize": 10, "labelPadding": 10, "titlePadding": 1, "labelExpr": "'' + datum.value"}}
              }
            },
            {
              "data": {"name": "peaks"},
              "mark": {"type": "point", "filled": true, "stroke": "#333333", "strokeWidth": 1.5, "opacity": 1},
              "encoding": {
                "x": {"field": "f", "type": "quantitative", "axis": {"orient": "top", "values": [1000, 1200, 1400, 1600, 1800, 2000], "labels": false, "title": null}},
                "y": {"field": "db", "type": "quantitative", "axis": {"orient": "right", "values": [-20, -15, -10, -5, 0, 5, 10], "labels": false, "title": null}},
                "fill": {"field": "kind", "type": "nominal", "scale": {"domain": ["harmonic", "nonharmonic"], "range": ["#f6f6a4", "#ef7878"]}, "legend": null},
                "size": {"field": "kind", "type": "ordinal", "scale": {"domain": ["harmonic", "nonharmonic"], "range": [230, 140]}, "legend": null}
              }
            },
            {
              "data": {"values": [{}]},
              "mark": {"type": "text", "text": ["This peak is likely due to", "longitudinal vibrations"], "align": "center", "baseline": "alphabetic", "fontSize": 16, "fontWeight": "bold", "lineHeight": 16.5, "color": "#111111", "font": "Liberation Sans"},
              "encoding": {"x": {"datum": 1321, "axis": null}, "y": {"datum": 5.08, "axis": null}}
            },
            {
              "data": {"values": [{}]},
              "mark": {"type": "rule", "color": "#111111", "strokeWidth": 1.5},
              "encoding": {"x": {"datum": 1373, "axis": null}, "y": {"datum": 2.89, "axis": null}, "x2": {"datum": 1388}, "y2": {"datum": 0.1}}
            },
            {
              "data": {"values": [{}]},
              "mark": {"type": "point", "shape": "M0,0L-0.4,1L0.4,1Z", "filled": true, "color": "#111111", "opacity": 1, "size": 380, "angle": 164},
              "encoding": {"x": {"datum": 1389, "axis": null}, "y": {"datum": -0.3, "axis": null}}
            },
            {
              "data": {"values": [{}]},
              "mark": {"type": "point", "shape": "circle", "filled": true, "fill": "#f6f6a4", "stroke": "#333333", "strokeWidth": 1.5, "opacity": 1, "size": 140},
              "encoding": {"x": {"datum": 2057, "axis": null}, "y": {"datum": 7.18, "axis": null}}
            },
            {
              "data": {"values": [{}]},
              "mark": {"type": "point", "shape": "circle", "filled": true, "fill": "#ef7878", "stroke": "#333333", "strokeWidth": 1.5, "opacity": 1, "size": 100},
              "encoding": {"x": {"datum": 2057, "axis": null}, "y": {"datum": 1.8, "axis": null}}
            },
            {
              "data": {"values": [{}]},
              "mark": {"type": "text", "text": ["Peaks that are harmonics", "of the fundamental"], "align": "left", "baseline": "alphabetic", "fontSize": 16, "fontWeight": "bold", "lineHeight": 17, "color": "#111111", "font": "Liberation Sans"},
              "encoding": {"x": {"datum": 2083.5, "axis": null}, "y": {"datum": 6.72, "axis": null}}
            },
            {
              "data": {"values": [{}]},
              "mark": {"type": "text", "text": ["Peaks that are not harmonics", "of the fundamental"], "align": "left", "baseline": "alphabetic", "fontSize": 16, "fontWeight": "bold", "lineHeight": 17, "color": "#111111", "font": "Liberation Sans"},
              "encoding": {"x": {"datum": 2083.5, "axis": null}, "y": {"datum": 1.37, "axis": null}}
            }
          ]
        }
      ]
    }
  ]
}
